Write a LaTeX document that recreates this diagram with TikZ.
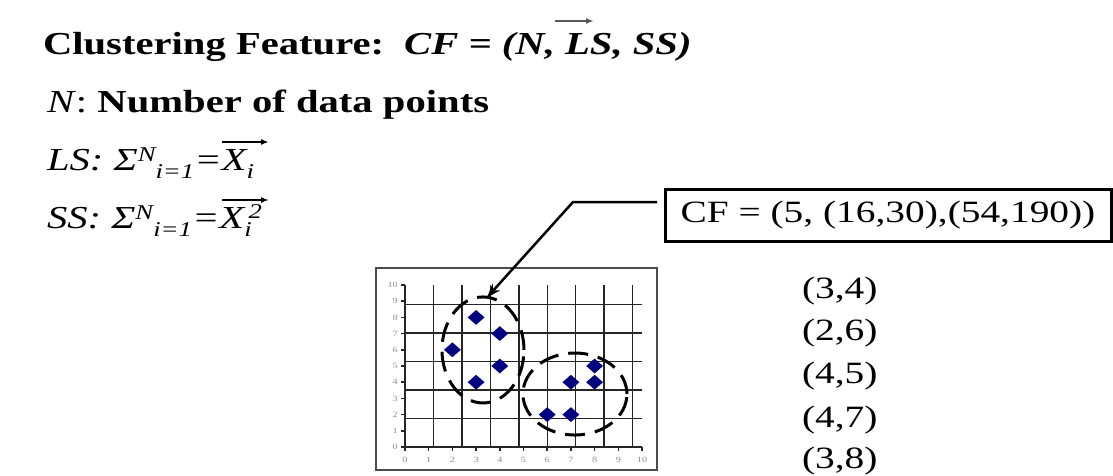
\documentclass[tikz,border=0pt]{standalone}
\usepackage{fontspec}
\setmainfont{Liberation Serif}[FakeStretch=1.27]
\usetikzlibrary{shapes.geometric,arrows.meta}
\definecolor{ptblue}{RGB}{0,0,128}
\tikzset{
  txt/.style={anchor=base west, inner sep=0pt, outer sep=0pt},
  big/.style={font=\fontsize{32}{38}\selectfont},
  mid/.style={font=\fontsize{31}{36}\selectfont},
  gridline/.style={line width=1.5pt, black!85},
  axlabel/.style={font=\fontsize{8}{8}\selectfont, text=black!45, inner sep=0pt},
  pt/.style={shape=diamond, fill=ptblue, minimum width=17pt, minimum height=15pt, inner sep=0pt},
  clus/.style={shape=ellipse, draw=black, line width=3pt, dash pattern=on 20pt off 10pt},
  leader/.style={line width=2.5pt, black},
  vec/.style={line width=1.6pt, -{Latex[length=8pt,width=6pt]}}
}
\newcommand{\scr}[1]{{\fontsize{21}{21}\selectfont #1}}
\begin{document}
\begin{tikzpicture}[x=1pt,y=-1pt]
\path[use as bounding box] (0,0) rectangle (1113,476);

% text block
\node[txt,big] (l1) at (43,55) {\textbf{Clustering Feature:}\hspace{20pt}\textbf{\textit{CF = (N, LS, SS)}}};
\draw[vec, black!65] (555,21) -- (594,21);
\node[txt,big] (l2) at (47,113) {\textit{N}: \textbf{Number of data points}};
\node[txt,big] (l3) at (47,170) {\itshape LS: Σ\raisebox{9pt}{\scr{N}}\raisebox{-8pt}{\scr{i=1}}=X\raisebox{-8pt}{\scr{i}}};
\draw[vec] (222,142) -- (269,142);
\node[txt,big] (l4) at (47,228) {\itshape SS: Σ\raisebox{9pt}{\scr{N}}\raisebox{-8pt}{\scr{i=1}}=X\raisebox{-8pt}{\scr{i}}\kern-3pt\raisebox{10pt}{\scr{2}}};
\draw[vec] (222,200) -- (269,200);

% CF box
\node[draw=black, line width=3pt, minimum width=446pt, minimum height=52pt, inner sep=0pt, mid] (cf) at (888,215) {CF = (5, (16,30),(54,190))};

% data list
\node[txt,mid] (d1) at (802,298) {(3,4)};
\node[txt,mid] (d2) at (802,340) {(2,6)};
\node[txt,mid] (d3) at (802,383) {(4,5)};
\node[txt,mid] (d4) at (802,427) {(4,7)};
\node[txt,mid] (d5) at (802,468) {(3,8)};

% plot frame
\draw[line width=1.3pt, black!70] (376,268) rectangle (657,470);

\begin{scope}[shift={(405,447)}, x=23.7pt, y=16.2pt]
  \draw[gridline] (0,0) grid (10,10);
  \foreach \j in {0,...,10} {
    \draw[gridline] (-0.15,\j) -- (0,\j);
    \node[axlabel, anchor=east] at (-0.3,\j) {\j};
  }
  \foreach \i in {0,...,10} {
    \draw[gridline] (\i,0) -- (\i,-0.25);
    \node[axlabel, anchor=north] at (\i,-0.6) {\i};
  }
  % clusters
  \node[clus, minimum width=82pt, minimum height=106pt] (c1) at (3.29,5.99) {};
  \node[clus, minimum width=104pt, minimum height=82pt] (c2) at (7.17,3.27) {};
  % points
  \foreach \p/\q [count=\k] in {3/4,2/6,4/5,4/7,3/8,6/2,7/2,7/4,8/4,8/5}
    \node[pt] (p\k) at (\p,\q) {};
\end{scope}

% leader with arrow
\coordinate (lead) at (657,202);
\coordinate (bend) at (573,202);
\draw[leader, -{Stealth[length=14pt,width=10pt]}] (lead) -- (bend) -- ([xshift=4pt,yshift=-2pt]c1.north);
\end{tikzpicture}
\end{document}
